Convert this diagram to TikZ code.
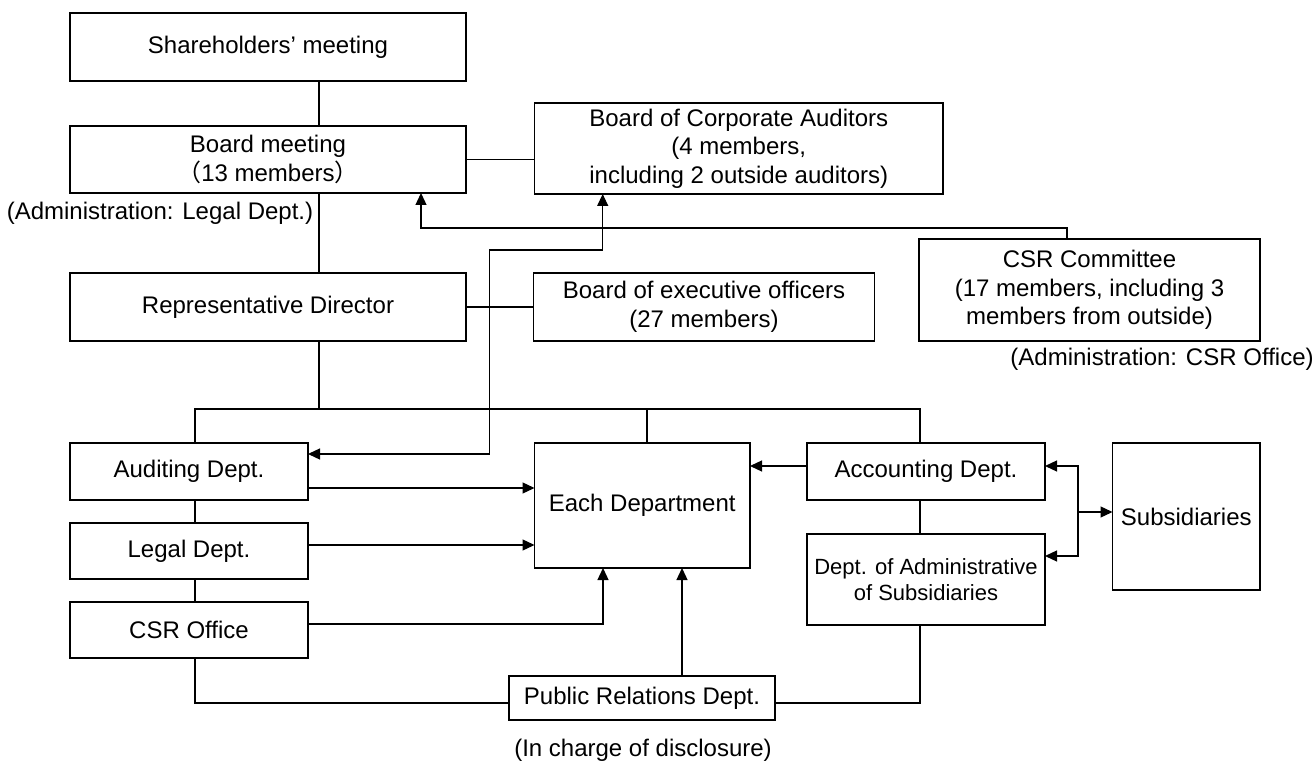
\documentclass[tikz,border=0pt]{standalone}
\usepackage{fontspec}
\setmainfont{Liberation Sans}
\newfontfamily\cjk{Noto Sans CJK JP}
\usetikzlibrary{arrows.meta}
\begin{document}
\begin{tikzpicture}[x=1pt,y=-1pt,
  box/.style={draw, line width=1.1pt, inner sep=0pt, outer sep=0pt, align=center, font=\fontsize{24}{28.5}\selectfont},
  smallbox/.style={box, font=\fontsize{22}{26.7}\selectfont},
  lbl/.style={inner sep=0pt, font=\fontsize{24}{28.5}\selectfont},
  conn/.style={line width=1.1pt},
  arr/.style={line width=1.3pt, -{Triangle[length=12pt,width=11pt]}},
  darr/.style={line width=1.3pt, {Triangle[length=12pt,width=11pt]}-{Triangle[length=12pt,width=11pt]}}]
\useasboundingbox (0,0) rectangle (1314,762);
\fill[white] (0,0) rectangle (1314,762);

% boxes
\node[box, minimum width=396pt, minimum height=68pt] (sh) at (268,47) {Shareholders’ meeting};
\node[box, minimum width=396pt, minimum height=67pt] (bm) at (268,159.5) {Board meeting\\{\cjk （}13 members{\cjk ）}};
\node[box, minimum width=396pt, minimum height=68pt] (rd) at (268,307) {Representative Director};
\node[box, minimum width=408.5pt, minimum height=91pt] (bca) at (738.75,148.5) {Board of Corporate Auditors\\(4 members,\\including 2 outside auditors)};
\node[box, minimum width=341pt, minimum height=68pt] (beo) at (704,307) {Board of executive officers\\(27 members)};
\node[box, minimum width=341pt, minimum height=102pt] (csrc) at (1089.5,290) {CSR Committee\\(17 members, including 3\\members from outside)};
\node[box, minimum width=238pt, minimum height=57pt] (aud) at (189,471.5) {Auditing Dept.};
\node[box, minimum width=238pt, minimum height=56pt] (legal) at (189,551) {Legal Dept.};
\node[box, minimum width=238pt, minimum height=56pt] (csro) at (189,630) {CSR Office};
\node[box, minimum width=215.5pt, minimum height=125pt] (each) at (642.25,505.5) {Each Department};
\node[box, minimum width=238pt, minimum height=57pt] (acc) at (926,471.5) {Accounting Dept.};
\node[smallbox, minimum width=238pt, minimum height=91pt] (dadm) at (926,579.5) {Dept. of Administrative\\of Subsidiaries};
\node[box, minimum width=147.5pt, minimum height=147pt] (subs) at (1186.25,516.5) {Subsidiaries};
\node[box, minimum width=266pt, minimum height=44pt] (pr) at (642,698) {Public Relations Dept.};

% labels
\node[lbl] (l1) at (160,213) {(Administration: Legal Dept.)};
\node[lbl] (l2) at (1162,359) {(Administration: CSR Office)};
\node[lbl] (l3) at (643,750) {(In charge of disclosure)};

% helper coordinates
\coordinate (vx) at (319,0);
\coordinate (bl) at (195,409);
\coordinate (br) at (920,409);
\coordinate (ex) at (647,409);
\coordinate (prl) at (0,703);
\coordinate (c1) at (1067,228);
\coordinate (c2) at (421,228);
\coordinate (a1) at (489.5,454);
\coordinate (a2) at (602.7,250);
\coordinate (r1) at (0,488);
\coordinate (r2) at (0,545);
\coordinate (r3) at (0,466);
\coordinate (c3) at (603,624);
\coordinate (j1) at (1078,466);
\coordinate (j2) at (1078,556);
\coordinate (j3) at (1078,512);
\coordinate (p1) at (682,0);

% plain connectors
\draw[conn] (sh.south -| vx) -- (bm.north -| vx);
\draw[conn] (bm.south -| vx) -- (rd.north -| vx);
\draw[conn] (rd.south -| vx) -- (vx |- bl);
\draw[conn] (bm.east) -- (bm.east -| bca.west);
\draw[conn] (rd.east) -- (rd.east -| beo.west);
\draw[conn] (aud.north -| bl) -- (bl) -- (br) -- (acc.north -| br);
\draw[conn] (ex) -- (each.north -| ex);
\draw[conn] (aud.south -| bl) -- (legal.north -| bl);
\draw[conn] (legal.south -| bl) -- (csro.north -| bl);
\draw[conn] (csro.south -| bl) -- (bl |- prl) -- (pr.west |- prl);
\draw[conn] (acc.south -| br) -- (dadm.north -| br);
\draw[conn] (dadm.south -| br) -- (br |- prl) -- (pr.east |- prl);

% arrows
\draw[arr] (csrc.north -| c1) -- (c1) -- (c2) -- (bm.south -| c2);
\draw[darr] (aud.east |- a1) -- (a1) -- (a1 |- a2) -- (a2) -- (bca.south -| a2);
\draw[arr] (aud.east |- r1) -- (each.west |- r1);
\draw[arr] (legal.east |- r2) -- (each.west |- r2);
\draw[arr] (csro.east |- c3) -- (c3) -- (each.south -| c3);
\draw[arr] (acc.west |- r3) -- (each.east |- r3);
\draw[darr] (acc.east |- j1) -- (j1) -- (j2) -- (dadm.east |- j2);
\draw[arr] (j3) -- (subs.west |- j3);
\draw[arr] (pr.north -| p1) -- (each.south -| p1);
\end{tikzpicture}
\end{document}
